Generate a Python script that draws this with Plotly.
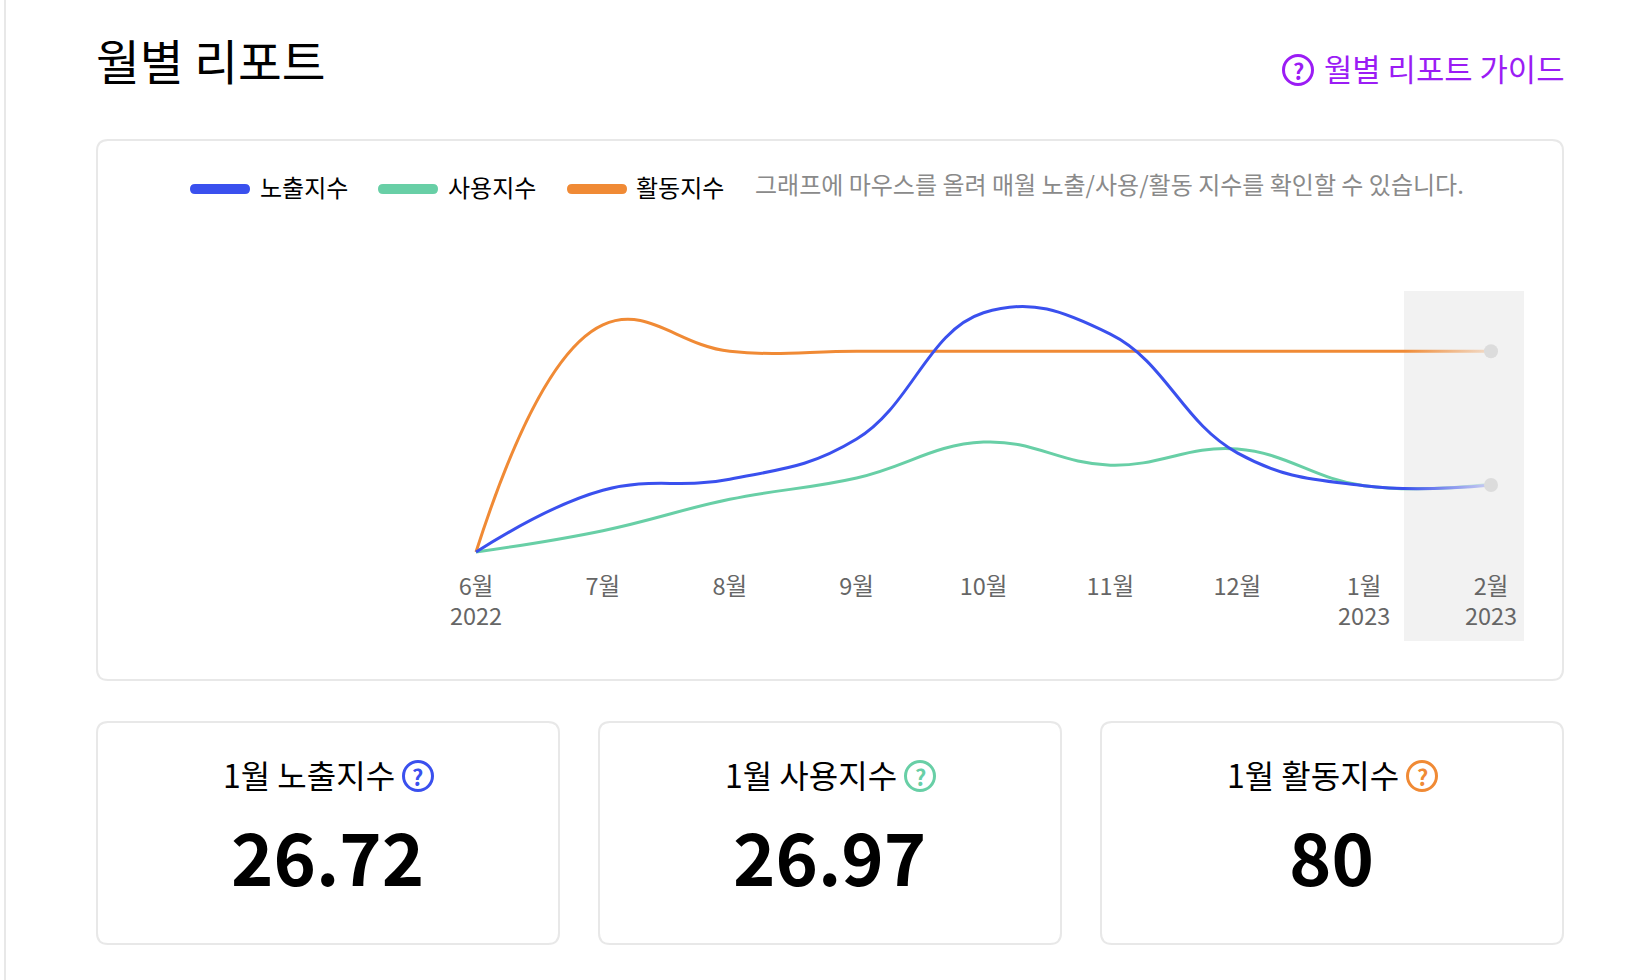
"""
Monthly report chart (월별 리포트) with three KPI cards.
"""

import plotly.graph_objects as go

W, H = 1647, 980
FONT = "Noto Sans CJK KR"

months = ["6월", "7월", "8월", "9월", "10월", "11월", "12월", "1월", "2월"]
years = ["2022", "", "", "", "", "", "", "2023", "2023"]
series_names = ["노출지수", "사용지수", "활동지수"]
exposure = [0, 24.6, 29, 45, 95.3, 86.8, 39.5, 26.4, 26.72]
usage = [0, 8.5, 21, 29.5, 43.8, 34.6, 41, 26.4, 26.97]
activity = [0, 90.5, 80, 80, 80, 80, 80, 80, 80]
card_values = ["26.72", "26.97", "80"]
colors = ["#3a50ee", "#68cfa6", "#f08a35"]

# pixel calibration of the plot area
X0, DX = 476, 126.875
Y0, DY = 552, 2.51
AXIS_BOTTOM = 570


def px(x):
    return x / W


def py(y):
    return 1 - y / H


def idx(x):
    return (x - X0) / DX


def round_rect(x0, y0, x1, y1, r, line=None, fill=None, width=2):
    path = (
        f"M {px(x0 + r)} {py(y0)} L {px(x1 - r)} {py(y0)} Q {px(x1)} {py(y0)} {px(x1)} {py(y0 + r)} "
        f"L {px(x1)} {py(y1 - r)} Q {px(x1)} {py(y1)} {px(x1 - r)} {py(y1)} "
        f"L {px(x0 + r)} {py(y1)} Q {px(x0)} {py(y1)} {px(x0)} {py(y1 - r)} "
        f"L {px(x0)} {py(y0 + r)} Q {px(x0)} {py(y0)} {px(x0 + r)} {py(y0)} Z"
    )
    return dict(
        type="path", xref="paper", yref="paper", path=path, layer="below",
        line=dict(color=line or "rgba(0,0,0,0)", width=width if line else 0),
        fillcolor=fill or "rgba(0,0,0,0)",
    )


def text(fig, s, x, y, size, color="#000000", anchor="left", weight=None):
    fig.add_annotation(
        text=s, x=px(x), y=py(y), xref="paper", yref="paper", xanchor=anchor, yanchor="middle",
        showarrow=False, font=dict(family=FONT, size=size, color=color, weight=weight),
    )


def help_icon(fig, cx, cy, color):
    r = 14.5
    fig.add_shape(
        type="circle", xref="paper", yref="paper", x0=px(cx - r), x1=px(cx + r),
        y0=py(cy + r), y1=py(cy - r), line=dict(color=color, width=3),
    )
    text(fig, "?", cx, cy, 22, color, "center", 700)


fig = go.Figure()

# series lines, exposure on top
for name, values, color in reversed(list(zip(series_names, [exposure, usage, activity], colors))):
    fig.add_trace(go.Scatter(
        x=list(range(len(months))), y=values, name=name, mode="lines",
        line=dict(color=color, width=3, shape="spline", smoothing=1.2),
        showlegend=False,
    ))

# the last month fades out into the grey band
fig.add_trace(go.Scatter(
    x=[idx(1404), idx(1486), idx(1486), idx(1404), idx(1404)],
    y=[(Y0 - 640) / DY, (Y0 - 640) / DY, (Y0 - 292) / DY, (Y0 - 292) / DY, (Y0 - 640) / DY],
    mode="none", fill="toself", hoverinfo="skip", showlegend=False,
    fillgradient=dict(
        type="horizontal",
        colorscale=[[0, "rgba(242,242,242,0)"], [1, "rgba(242,242,242,0.75)"]],
    ),
))

# end points
fig.add_trace(go.Scatter(
    x=[len(months) - 1, len(months) - 1], y=[activity[-1], exposure[-1]], mode="markers",
    marker=dict(color="#dcdcdc", size=14), hoverinfo="skip", showlegend=False,
))

# page frame
fig.add_shape(type="line", xref="paper", yref="paper", x0=px(5), x1=px(5), y0=0, y1=1,
              line=dict(color="#e8e8e8", width=2), layer="below")
fig.add_shape(round_rect(97, 140, 1563, 680, 11, "#e8e8e8"))
fig.add_shape(type="rect", xref="paper", yref="paper", x0=px(1404), x1=px(1524), y0=py(641), y1=py(291),
              fillcolor="#f2f2f2", line_width=0, layer="below")

# header
text(fig, "월별 리포트", 94, 60, 47.6)
help_icon(fig, 1298, 70, "#9b1cf5")
text(fig, "월별 리포트 가이드", 1566, 68, 30.8, "#9b1cf5", "right")

# hand-placed legend, swatches are wider than a plotly legend allows
legend_bars = [190, 378, 567]
legend_text = [258, 446, 634]
for name, color, bx, tx in zip(series_names, colors, legend_bars, legend_text):
    fig.add_shape(round_rect(bx, 184, bx + 60, 194, 5, fill=color))
    text(fig, name, tx, 187, 24)
text(fig, "그래프에 마우스를 올려 매월 노출/사용/활동 지수를 확인할 수 있습니다.", 753, 183, 24, "#8a8a8a")

# KPI cards
for i, (name, value, color) in enumerate(zip(series_names, card_values, colors)):
    off = 502 * i
    fig.add_shape(round_rect(97 + off, 722, 559 + off, 944, 11, "#e8e8e8"))
    text(fig, f"1월 {name}", 397 + off, 774, 32, "#000000", "right")
    help_icon(fig, 418 + off, 776, color)
    text(fig, value, 327 + off, 854, 72, "#000000", "center", 700)

fig.update_layout(
    width=W, height=H,
    margin=dict(l=0, r=0, t=0, b=0),
    paper_bgcolor="#ffffff", plot_bgcolor="rgba(0,0,0,0)",
    font=dict(family=FONT),
    xaxis=dict(
        range=[idx(0), idx(W)], showgrid=False, zeroline=False, showline=False, ticks="",
        tickmode="array", tickvals=list(range(len(months))),
        ticktext=[f"{m}<br>{y}" if y else m for m, y in zip(months, years)],
        tickfont=dict(family=FONT, size=23.5, color="#666666"),
    ),
    yaxis=dict(
        domain=[py(AXIS_BOTTOM), 1], range=[(Y0 - AXIS_BOTTOM) / DY, Y0 / DY],
        showgrid=False, zeroline=False, showline=False, showticklabels=False,
    ),
)

fig.write_html(
    "out.html",
    config=dict(displayModeBar=False),
    post_script="document.body.style.margin='0';document.documentElement.style.overflow='hidden';",
)
